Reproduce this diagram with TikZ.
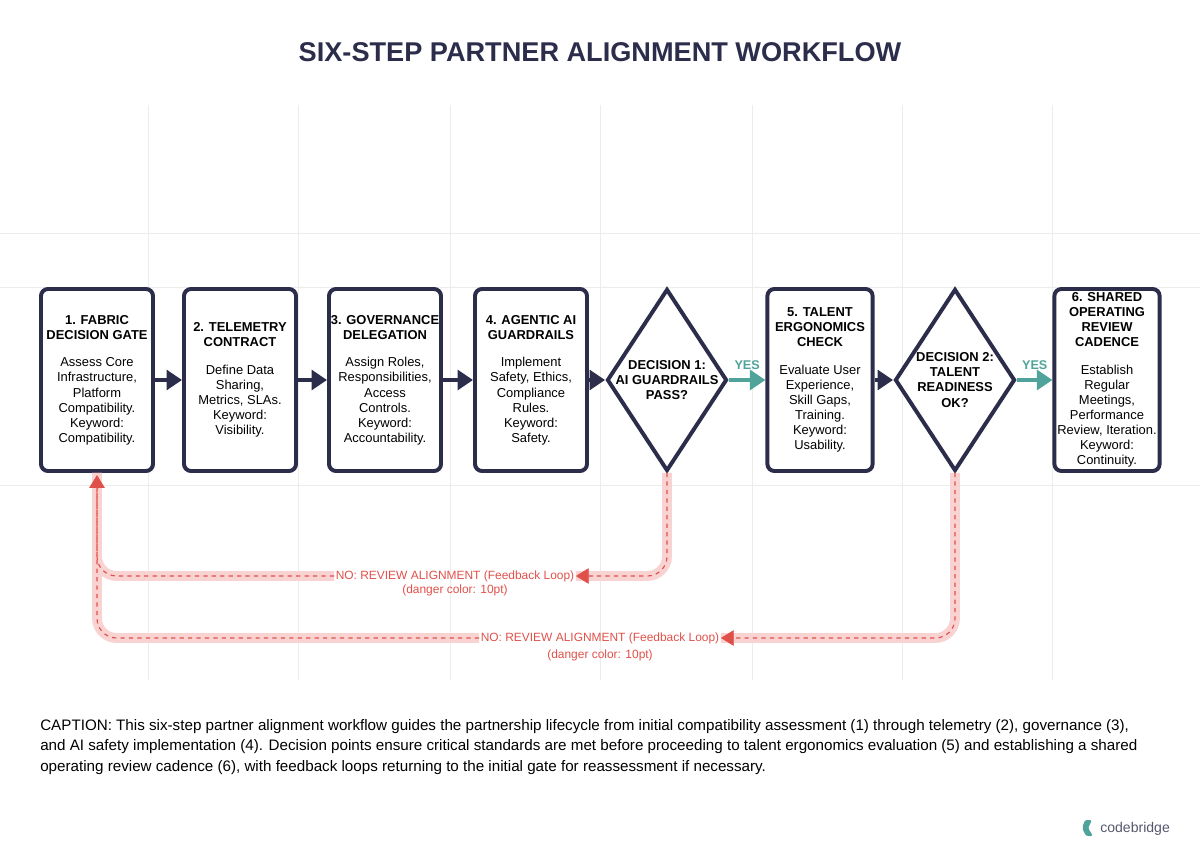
\documentclass[tikz,border=0pt]{standalone}
\usepackage{fontspec}
\setmainfont{Liberation Sans}
\usetikzlibrary{arrows.meta,shapes.geometric}
\definecolor{navy}{HTML}{2B2D4A}
\definecolor{tealc}{HTML}{4FA39A}
\definecolor{danger}{HTML}{E0504A}
\definecolor{dangerlight}{HTML}{F9D3D1}
\tikzset{
  stage/.style={draw=navy, line width=2.8pt, rounded corners=5pt, fill=white,
    minimum width=2.8cm, minimum height=4.55cm, align=center,
    inner sep=0pt, font=\fontsize{9.2}{10.7}\selectfont, text=black},
  gate/.style={draw=navy, line width=2.8pt, diamond, fill=white, inner sep=0pt,
    minimum width=3cm, minimum height=4.55cm},
  flow/.style={navy, line width=3.5pt, -{Triangle[length=11pt,width=14pt]}},
  pass/.style={tealc, line width=3.5pt, -{Triangle[length=11pt,width=14pt]}},
  band/.style={dangerlight, line width=7pt, rounded corners=14pt},
  loop/.style={danger, line width=0.8pt, dashed, rounded corners=14pt},
  tip/.style={danger, -{Triangle[length=9pt,width=11pt]}},
  nolabel/.style={text=danger, font=\fontsize{8.5}{10}\selectfont, inner sep=1pt}
}
\begin{document}
\begin{tikzpicture}[x=0.025cm, y=-0.025cm]
\useasboundingbox (0,0) rectangle (1200,853);

% Background grid
\foreach \gx in {148,298,450,600,752,902,1052}
  \draw[gray!15, line width=0.6pt] (\gx,105) -- (\gx,680);
\foreach \gy in {233,287,485}
  \draw[gray!15, line width=0.6pt] (0,\gy) -- (1200,\gy);

% Title
\node (title) at (600,52) {\fontsize{19.3}{22}\selectfont\bfseries\color{navy} SIX-STEP PARTNER ALIGNMENT WORKFLOW};

% Steps
\node[stage] (s1) at (97,380) {\textbf{1. FABRIC}\\\textbf{DECISION GATE}\\[9pt]Assess Core\\Infrastructure,\\Platform\\Compatibility.\\Keyword:\\Compatibility.};
\node[stage] (s2) at (240,380) {\textbf{2. TELEMETRY}\\\textbf{CONTRACT}\\[9pt]Define Data\\Sharing,\\Metrics, SLAs.\\Keyword:\\Visibility.};
\node[stage] (s3) at (385,380) {\textbf{3. GOVERNANCE}\\\textbf{DELEGATION}\\[9pt]Assign Roles,\\Responsibilities,\\Access\\Controls.\\Keyword:\\Accountability.};
\node[stage] (s4) at (531,380) {\textbf{4. AGENTIC AI}\\\textbf{GUARDRAILS}\\[9pt]Implement\\Safety, Ethics,\\Compliance\\Rules.\\Keyword:\\Safety.};
\node[gate, label={[font=\fontsize{9.2}{10.7}\selectfont\bfseries, align=center]center:DECISION 1:\\AI GUARDRAILS\\PASS?}] (d1) at (667,380) {};
\node[stage, minimum width=2.63cm] (s5) at (820,380) {\textbf{5. TALENT}\\\textbf{ERGONOMICS}\\\textbf{CHECK}\\[9pt]Evaluate User\\Experience,\\Skill Gaps,\\Training.\\Keyword:\\Usability.};
\node[gate, label={[font=\fontsize{9.2}{10.7}\selectfont\bfseries, align=center]center:DECISION 2:\\TALENT\\READINESS\\OK?}] (d2) at (955,380) {};
\node[stage, minimum width=2.63cm] (s6) at (1107,380) {\textbf{6. SHARED}\\\textbf{OPERATING}\\\textbf{REVIEW}\\\textbf{CADENCE}\\[9pt]Establish\\Regular\\Meetings,\\Performance\\Review, Iteration.\\Keyword:\\Continuity.};

% Forward arrows
\draw[flow] (s1) -- (s2);
\draw[flow] (s2) -- (s3);
\draw[flow] (s3) -- (s4);
\draw[flow] (s4) -- (d1);
\draw[pass] (d1) -- node[above=2pt, text=tealc, font=\fontsize{9}{10}\selectfont\bfseries] (yes1) {YES} (s5);
\draw[flow] (s5) -- (d2);
\draw[pass] (d2) -- node[above=2pt, text=tealc, font=\fontsize{9}{10}\selectfont\bfseries] (yes2) {YES} (s6);

% Feedback labels
\node[nolabel] (no1) at (455,576) {NO: REVIEW ALIGNMENT (Feedback Loop)};
\node[nolabel] (no1b) at (455,590) {(danger color: 10pt)};
\node[nolabel] (no2) at (600,638) {NO: REVIEW ALIGNMENT (Feedback Loop)};
\node[nolabel] (no2b) at (600,655) {(danger color: 10pt)};

% Feedback loops
\draw[band] (d1.south) |- (no1.east);
\draw[band] (no1.west) -| (s1.south);
\draw[band] (d2.south) |- (no2.east);
\draw[band] (no2.west) -| (s1.south);
\draw[loop] (d1.south) |- ([xshift=7pt]no1.east);
\draw[loop] (no1.west) -| ([yshift=-11pt]s1.south);
\draw[loop] (d2.south) |- ([xshift=7pt]no2.east);
\draw[loop] (no2.west) -| ([yshift=-11pt]s1.south);
\draw[tip] ([xshift=7pt]no1.east) -- (no1.east);
\draw[tip] ([xshift=7pt]no2.east) -- (no2.east);
\draw[tip] ([yshift=-11pt]s1.south) -- ([yshift=-1.5pt]s1.south);

% Caption
\node[anchor=north west, align=left, font=\fontsize{10.8}{14.6}\selectfont, inner sep=0pt] (caption) at (40,719) {CAPTION: This six-step partner alignment workflow guides the partnership lifecycle from initial compatibility assessment (1) through telemetry (2), governance (3),\\and AI safety implementation (4). Decision points ensure critical standards are met before proceeding to talent ergonomics evaluation (5) and establishing a shared\\operating review cadence (6), with feedback loops returning to the initial gate for reassessment if necessary.};

% Logo
\fill[tealc, rounded corners=1.5pt] (1085,820) -- (1092,820) -- (1088,828) -- (1093,836) -- (1086,836) -- (1082,828) -- cycle;
\node[anchor=west, font=\fontsize{10}{12}\selectfont, text=navy!80, inner sep=0pt] (logo) at (1100,829) {codebridge};

\end{tikzpicture}
\end{document}
